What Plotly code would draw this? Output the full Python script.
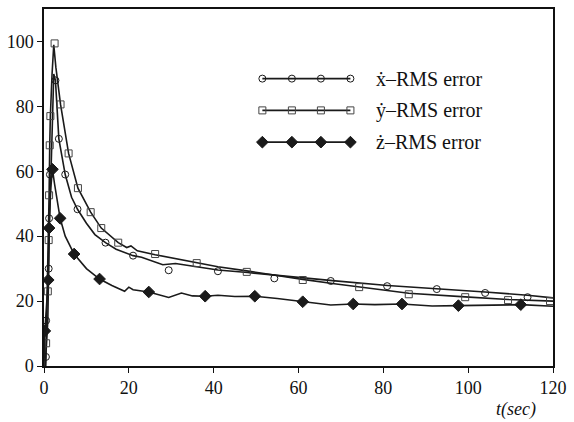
import plotly.graph_objects as go

# ---- data ----
# x-dot RMS error (circles)
tx_line = [0.3, 0.45, 0.9, 1.1, 1.3, 1.7, 2.3, 2.7, 3.5, 5.0, 6.5, 7.9, 10, 12, 14.5, 17, 19, 21, 23, 25, 28, 31, 36, 41, 48, 54, 61, 68, 81, 93, 104, 114, 120]
x_line = [0, 2.8, 14, 30, 45.5, 62, 90, 88, 70, 59, 52, 48.3, 44, 40.5, 38, 36, 35, 34, 33.5, 32.5, 31.2, 31.6, 30.5, 29.6, 28.8, 28, 27.2, 26.3, 24.8, 23.8, 22.8, 21.8, 21]
tx_mark = [0.45, 0.5, 1.1, 1.2, 1.4, 2.7, 3.5, 5.0, 7.9, 14.5, 21, 29.4, 41, 54.3, 67.6, 80.9, 92.6, 104, 114]
x_mark = [2.8, 14, 30, 45.5, 59, 88, 70, 59, 48.3, 38, 34, 29.5, 29.2, 27, 26.2, 24.6, 23.7, 22.5, 21.2]

# y-dot RMS error (squares)
ty_line = [0.4, 0.5, 0.9, 1.1, 1.2, 1.35, 1.5, 1.9, 2.3, 2.8, 3.9, 5.8, 8, 11, 13.5, 17.5, 19.5, 20.5, 22, 26.2, 30, 36, 41, 47.8, 55, 61, 68, 74.3, 86, 99.3, 109.4, 120]
y_line = [0, 7, 23, 38.8, 52.6, 68, 77, 90, 99, 92, 80.6, 65.5, 54.8, 47.4, 42.5, 38, 36.5, 37, 35.5, 34.3, 33.3, 31.8, 30.6, 29.3, 28, 26.7, 25.4, 24.4, 22.4, 21.3, 20.5, 20]
ty_mark = [0.5, 0.9, 1.1, 1.2, 1.35, 1.5, 2.5, 3.9, 5.8, 8, 11, 13.5, 17.5, 26.2, 36, 47.8, 61, 74.3, 86, 99.3, 109.4, 119.3]
y_mark = [7, 23, 38.8, 52.6, 68, 77, 99.4, 80.6, 65.5, 54.8, 47.4, 42.5, 38, 34.5, 31.7, 29, 26.5, 24.3, 22.1, 21.2, 20.3, 20]

# z-dot RMS error (diamonds)
tz_line = [0, 0.2, 1.0, 1.2, 1.6, 2.0, 2.5, 3.8, 5, 7.1, 10, 13.1, 16, 19, 20, 21, 24.7, 27, 29.4, 32.4, 35, 38, 41, 45, 49.7, 55, 61, 67.6, 72.9, 78, 84.4, 91.5, 97.7, 105, 112.4, 120]
z_line = [0, 10.8, 26.5, 42.5, 55, 60.6, 56, 45.5, 40, 34.5, 30, 26.8, 24.8, 23, 24.3, 23.5, 22.8, 22, 21.1, 22.5, 21.6, 21.5, 21.8, 21.4, 21.5, 20.8, 19.8, 18.8, 19.1, 18.9, 19.1, 18.5, 18.6, 18.7, 18.9, 18.4]
tz_mark = [0.2, 1.0, 1.2, 2.0, 3.8, 7.1, 13.1, 24.7, 38, 49.7, 61, 72.9, 84.4, 97.7, 112.4]
z_mark = [10.8, 26.5, 42.5, 60.6, 45.5, 34.5, 26.8, 22.8, 21.5, 21.5, 19.8, 19.1, 19.1, 18.6, 18.9]

x_ticks = [0, 20, 40, 60, 80, 100, 120]
y_ticks = [0, 20, 40, 60, 80, 100]
legend_labels = ["ẋ–RMS error", "ẏ–RMS error", "ż–RMS error"]

LINE = "#1a1a1a"
SERIF = "Liberation Serif, Times New Roman, DejaVu Serif, serif"

fig = go.Figure()

series = [
    (tx_line, x_line, tx_mark, x_mark, "circle-open", LINE, 7),
    (ty_line, y_line, ty_mark, y_mark, "square-open", "#444", 7),
    (tz_line, z_line, tz_mark, z_mark, "diamond", LINE, 9),
]
for tl, vl, tm, vm, sym, mc, ms in series:
    fig.add_trace(go.Scatter(x=tl, y=vl, mode="lines", line=dict(color=LINE, width=1.6, shape="linear"),
                             showlegend=False, hoverinfo="skip"))
    fig.add_trace(go.Scatter(x=tm, y=vm, mode="markers",
                             marker=dict(symbol=sym, size=ms, color=mc, line=dict(width=1, color=mc)),
                             showlegend=False))

# custom legend (line with four markers), on an invisible overlay axis in paper-like units
leg_rows = [0.805, 0.716, 0.627]
leg_x = [0.429, 0.487, 0.544, 0.602]
for (tl, vl, tm, vm, sym, mc, ms), ry, lab in zip(series, leg_rows, legend_labels):
    fig.add_trace(go.Scatter(x=leg_x, y=[ry] * len(leg_x), mode="lines+markers", xaxis="x2", yaxis="y2",
                             line=dict(color=LINE, width=1.6),
                             marker=dict(symbol=sym, size=ms, color=mc, line=dict(width=1, color=mc)),
                             showlegend=False, hoverinfo="skip"))
    fig.add_annotation(x=0.649, y=ry, xref="x2", yref="y2", text=lab, showarrow=False,
                       xanchor="left", yanchor="middle", font=dict(family=SERIF, size=20, color="#111"))

fig.add_annotation(x=0.97, y=-0.123, xref="paper", yref="paper", text="<i>t(sec)</i>", showarrow=False,
                   xanchor="right", yanchor="middle", font=dict(family=SERIF, size=18, color="#111"))

axis_common = dict(showline=True, linecolor="#111", linewidth=1.5, mirror=True, ticks="outside",
                   ticklen=5, tickcolor="#111", showgrid=False, zeroline=False,
                   ticklabeloverflow="allow",
                   tickfont=dict(family=SERIF, size=18, color="#111"))
fig.update_layout(
    width=574, height=422,
    margin=dict(l=39, r=13, t=7, b=56),
    paper_bgcolor="white", plot_bgcolor="white",
    font=dict(family=SERIF, size=18, color="#111"),
    xaxis=dict(range=[0, 120], tickvals=x_ticks, **axis_common),
    yaxis=dict(range=[0, 110], tickvals=y_ticks, **axis_common),
    xaxis2=dict(range=[0, 1], overlaying="x", visible=False),
    yaxis2=dict(range=[0, 1], overlaying="y", visible=False),
    showlegend=False,
)

fig.write_html("out.html")
